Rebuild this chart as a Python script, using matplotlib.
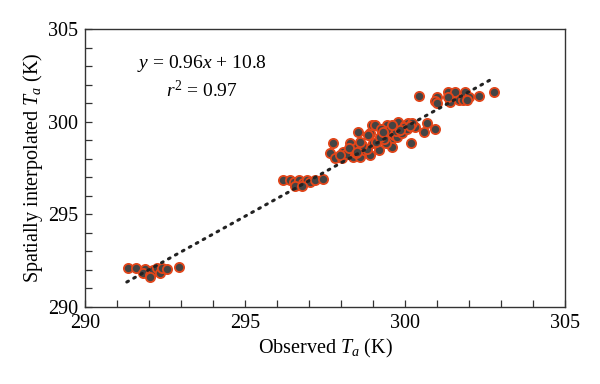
import numpy as np
import matplotlib.pyplot as plt
from matplotlib.ticker import MultipleLocator

# observed vs spatially interpolated air temperature (K)
obs_low = [291.35, 291.6, 291.87, 291.82, 292.03, 292.13, 292.24, 292.34, 292.4, 292.55, 292.92, 292.03]
est_low = [292.09, 292.09, 292.03, 291.82, 291.73, 292.0, 292.09, 291.85, 292.09, 292.03, 292.17, 291.64]

obs_mid = [296.18, 296.41, 296.51, 296.67, 296.82, 296.93, 297.03, 297.19, 297.43, 296.56, 296.77]
est_mid = [296.85, 296.85, 296.76, 296.85, 296.67, 296.85, 296.76, 296.85, 296.89, 296.55, 296.55]

obs_high = [297.74, 297.66, 297.81, 298.02, 298.07, 298.28, 298.33, 298.38, 298.49, 298.54,
            298.59, 298.7, 298.9, 298.96, 298.9, 299.0, 299.06, 299.17, 299.27, 299.43,
            299.48, 299.53, 299.58, 299.64, 299.74, 299.79, 299.9, 300.0, 300.1, 300.31,
            300.18, 299.4, 298.15, 298.45, 298.8, 299.1, 299.35, 299.7, 299.95, 300.05,
            298.65, 299.2, 299.85, 300.68, 300.6, 300.94, 300.21,
            297.95, 298.25, 298.6, 298.85, 299.25, 299.6, 299.3, 298.5, 300.15,
            300.44, 300.99, 300.94, 300.99, 301.35, 301.41, 301.56, 301.35, 301.67,
            301.82, 301.88, 301.98, 301.93, 302.31, 302.76]
est_high = [298.83, 298.29, 298.02, 298.02, 298.38, 298.83, 298.47, 298.11, 298.65, 299.46,
            298.11, 298.47, 299.37, 299.82, 298.2, 298.83, 299.82, 298.47, 299.1, 299.82,
            299.55, 298.92, 298.65, 299.28, 299.19, 300.0, 299.37, 299.82, 299.91, 299.73,
            298.83, 298.83, 298.25, 298.3, 298.55, 298.9, 299.05, 299.5, 299.7, 299.6,
            298.75, 299.15, 299.55, 299.95, 299.46, 299.59, 299.91,
            298.2, 298.6, 298.9, 299.3, 299.6, 299.8, 299.45, 298.35, 299.75,
            301.39, 301.32, 301.13, 300.99, 301.62, 301.08, 301.59, 301.35, 301.17,
            301.17, 301.62, 301.35, 301.17, 301.39, 301.59]

observed = np.array(obs_low + obs_mid + obs_high)
interpolated = np.array(est_low + est_mid + est_high)

# fitted line as drawn
fit_slope = 0.96
fit_intercept = 11.7
fit_range = [291.3, 302.75]

plt.rcParams['font.family'] = ['Liberation Serif', 'DejaVu Serif']
plt.rcParams['mathtext.fontset'] = 'custom'
plt.rcParams['mathtext.rm'] = 'Liberation Serif'
plt.rcParams['mathtext.it'] = 'Liberation Serif:italic'

fig = plt.figure(figsize=(6, 3.84), dpi=100)
ax = fig.add_axes([0.142, 0.2005, 0.8, 0.724])

xl = np.array(fit_range)
ax.plot(xl, fit_slope * xl + fit_intercept, color='#222222', lw=2.2,
        linestyle=(0, (0.6, 2.0)), dash_capstyle='round', zorder=3)

ax.scatter(observed, interpolated, s=44, facecolor='#444444',
           edgecolor='#e2461a', linewidths=1.3, zorder=2)

ax.text(293.65, 303.15, r'$y$ = 0.96$x$ + 10.8', fontsize=14,
        ha='center', va='center')
ax.text(293.65, 301.7, r'$r^2$ = 0.97', fontsize=14,
        ha='center', va='center')

ax.set_xlim(290, 305)
ax.set_ylim(290, 305)
ax.xaxis.set_major_locator(MultipleLocator(5))
ax.yaxis.set_major_locator(MultipleLocator(5))
ax.xaxis.set_minor_locator(MultipleLocator(1))
ax.yaxis.set_minor_locator(MultipleLocator(1))
ax.tick_params(which='both', direction='in', length=5, width=0.9, color='#333333')
ax.tick_params(which='major', labelsize=14.5, pad=5)
for s in ax.spines.values():
    s.set_linewidth(1.0)
    s.set_color('#333333')

ax.set_xlabel(r'Observed $T_a$ (K)', fontsize=14.5, labelpad=3)
ax.set_ylabel(r'Spatially interpolated $T_a$ (K)', fontsize=14.5, labelpad=2)

fig.savefig('out.png', dpi=100)
